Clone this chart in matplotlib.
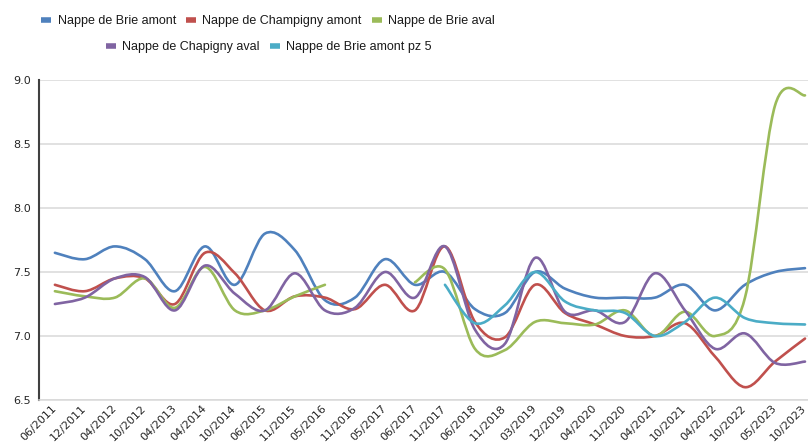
import numpy as np
import matplotlib
matplotlib.use("Agg")
import matplotlib.pyplot as plt
from matplotlib.path import Path
from matplotlib.patches import PathPatch
from matplotlib.lines import Line2D

nan = np.nan

# dates de mesure (axe des x)
dates = ['06/2011', '12/2011', '04/2012', '10/2012', '04/2013', '04/2014', '10/2014',
         '06/2015', '11/2015', '05/2016', '11/2016', '05/2017', '06/2017', '11/2017',
         '06/2018', '11/2018', '03/2019', '12/2019', '04/2020', '11/2020', '04/2021',
         '10/2021', '04/2022', '10/2022', '05/2023', '10/2023']

brie_amont = [7.65, 7.6, 7.7, 7.6, 7.35, 7.7, 7.4, 7.8, 7.67, 7.28, 7.3, 7.6, 7.4,
              7.5, 7.21, 7.18, 7.5, 7.37, 7.3, 7.3, 7.3, 7.4, 7.2, 7.4, 7.5, 7.53]
champigny_amont = [7.4, 7.35, 7.45, 7.45, 7.25, 7.65, 7.49, 7.2, 7.31, 7.3, 7.21, 7.4, 7.2,
                   7.7, 7.11, 6.99, 7.4, 7.18, 7.09, 7.0, 7.0, 7.1, 6.84, 6.6, 6.8, 6.98]
brie_aval = [7.35, 7.31, 7.3, 7.45, 7.22, 7.54, 7.2, 7.2, 7.31, 7.4, nan, nan, 7.42,
             7.52, 6.9, 6.89, 7.11, 7.1, 7.09, 7.2, 7.0, 7.19, 7.0, 7.3, 8.8, 8.88]
chapigny_aval = [7.25, 7.3, 7.45, 7.46, 7.2, 7.55, 7.33, 7.2, 7.49, 7.2, 7.22, 7.5, 7.3,
                 7.7, 7.05, 6.94, 7.61, 7.19, 7.2, 7.11, 7.49, 7.2, 6.9, 7.02, 6.79, 6.8]
brie_amont_pz5 = [nan, nan, nan, nan, nan, nan, nan, nan, nan, nan, nan, nan, nan,
                  7.4, 7.1, 7.24, 7.5, 7.27, 7.2, 7.18, 7.0, 7.11, 7.3, 7.14, 7.1, 7.09]

series = [
    ("Nappe de Brie amont", brie_amont, "#4F81BD"),
    ("Nappe de Champigny amont", champigny_amont, "#C0504D"),
    ("Nappe de Brie aval", brie_aval, "#9BBB59"),
    ("Nappe de Chapigny aval", chapigny_aval, "#8064A2"),
    ("Nappe de Brie amont pz 5", brie_amont_pz5, "#4BACC6"),
]


def smooth_path(xs, ys):
    # courbe lissee facon Excel (bezier passant par les points)
    verts = [(xs[0], ys[0])]
    codes = [Path.MOVETO]
    n = len(xs)
    for i in range(n - 1):
        a = i - 1 if i > 0 else i
        b = i + 2 if i + 2 < n else i + 1
        c1 = (xs[i] + (xs[i + 1] - xs[a]) / 6, ys[i] + (ys[i + 1] - ys[a]) / 6)
        c2 = (xs[i + 1] - (xs[b] - xs[i]) / 6, ys[i + 1] - (ys[b] - ys[i]) / 6)
        verts += [c1, c2, (xs[i + 1], ys[i + 1])]
        codes += [Path.CURVE4] * 3
    return Path(verts, codes)


fig = plt.figure(figsize=(8.08, 4.42), dpi=100)
ax = fig.add_axes([39 / 808, 1 - 400 / 442, 1 - 39 / 808, 320 / 442])

x = np.arange(len(dates))
handles = []
for name, vals, col in series:
    y = np.array(vals, dtype=float)
    ok = ~np.isnan(y)
    # decouper en segments continus
    idx = np.where(ok)[0]
    segs = np.split(idx, np.where(np.diff(idx) > 1)[0] + 1)
    for s in segs:
        if len(s) < 2:
            continue
        p = smooth_path(x[s].astype(float), y[s])
        ax.add_patch(PathPatch(p, facecolor="none", edgecolor=col, lw=1.9,
                               capstyle="round", joinstyle="round", zorder=3))
    handles.append(Line2D([], [], color=col, lw=4, solid_capstyle="butt", label=name))

ax.set_xlim(-0.53, 25.1)
ax.set_ylim(6.5, 9.0)
ax.set_yticks([6.5, 7.0, 7.5, 8.0, 8.5, 9.0])
ax.set_yticklabels(["6.5", "7.0", "7.5", "8.0", "8.5", "9.0"])
ax.set_xticks(x)
ax.set_xticklabels(dates, rotation=45, ha="right", va="center", rotation_mode="anchor")
ax.tick_params(axis="both", length=0, labelsize=8, labelcolor="#262626")
ax.tick_params(axis="y", pad=6)
ax.tick_params(axis="x", pad=5)
ax.grid(axis="y", color="#D9D9D9", lw=1.1)
ax.set_axisbelow(True)
for sp in ["top", "right"]:
    ax.spines[sp].set_visible(False)
ax.spines["bottom"].set_color("#D9D9D9")
ax.spines["bottom"].set_linewidth(1.1)
ax.spines["left"].set_color("#404040")
ax.spines["left"].set_linewidth(1.5)

leg_font = {"family": ["Liberation Sans Narrow", "Liberation Sans"], "size": 9}
leg1 = fig.legend(handles=handles[:3], ncol=3, loc="center", bbox_to_anchor=(268 / 808, 1 - 21 / 442),
                  frameon=False, prop=leg_font, handlelength=0.8, handletextpad=0.5,
                  columnspacing=0.8, borderpad=0)
leg2 = fig.legend(handles=handles[3:], ncol=2, loc="center", bbox_to_anchor=(269 / 808, 1 - 47 / 442),
                  frameon=False, prop=leg_font, handlelength=0.8, handletextpad=0.5,
                  columnspacing=0.8, borderpad=0)
for lg in (leg1, leg2):
    for t in lg.get_texts():
        t.set_color("#1a1a1a")

fig.savefig("out.png", dpi=100)
